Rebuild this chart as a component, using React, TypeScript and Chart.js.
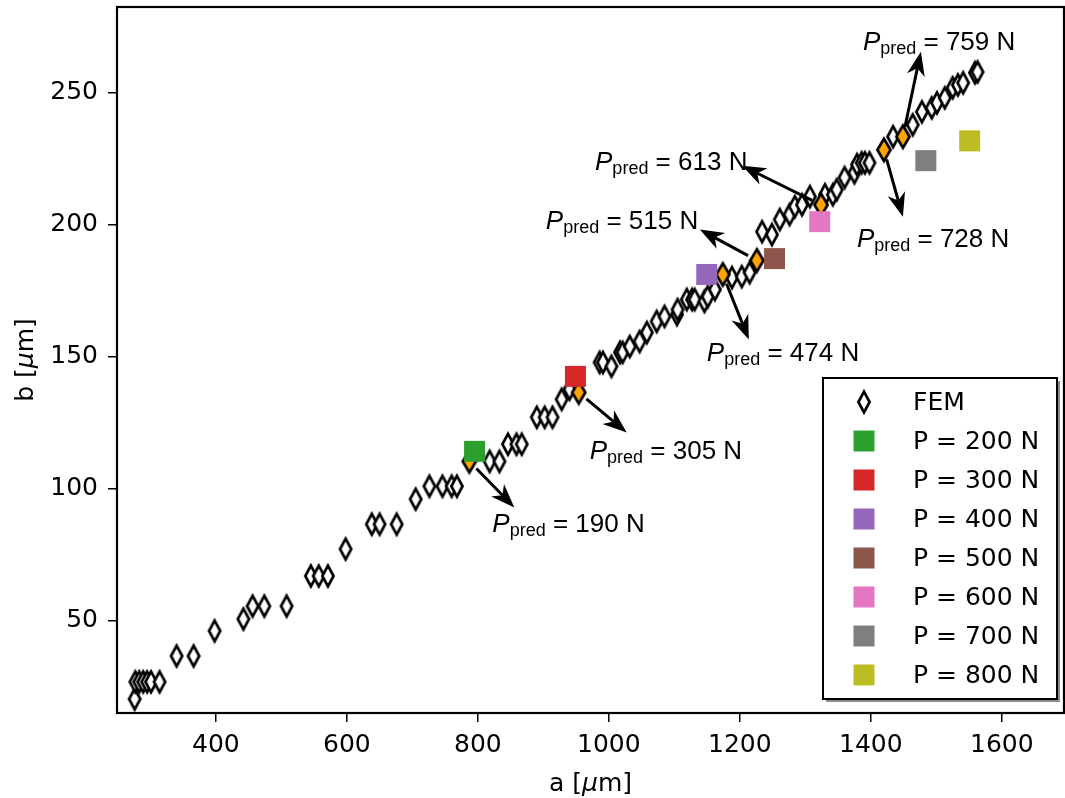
import React, { useEffect, useRef } from "react";
import { Chart, registerables } from "chart.js";

Chart.register(...registerables);

// ---- data ----
const femA = [
  276, 277, 283, 289, 295, 301, 314, 340, 366, 398, 442, 456, 474, 508, 545, 557, 571, 598,
  638, 650, 676, 705, 726, 746, 760, 768, 818, 833, 846, 859, 867, 890, 902, 914, 928, 940,
  986, 991, 1004, 1017, 1021, 1032, 1047, 1058, 1073, 1085, 1104, 1105, 1119, 1127, 1131,
  1146, 1151, 1162, 1188, 1203, 1215, 1234, 1249, 1261, 1276, 1284, 1295, 1307, 1330, 1342,
  1348, 1360, 1375, 1379, 1386, 1391, 1398, 1434, 1464, 1478, 1493, 1501, 1513, 1525, 1533,
  1541, 1559, 1563,
];
const femB = [
  20.4, 26.9, 26.9, 26.9, 26.9, 26.9, 26.9, 36.7, 36.7, 46.2, 50.7, 55.6, 55.6, 55.6, 67, 67,
  67, 77.2, 86.6, 86.6, 86.6, 96.1, 101, 101, 101, 101, 110.4, 110.4, 116.9, 116.9, 116.9,
  127.1, 127.1, 127.1, 133.9, 137.7, 147.9, 147.9, 146.4, 151.7, 151.7, 153.9, 155.8, 159.2,
  163.4, 165.3, 166, 167.9, 171.7, 171.7, 171.7, 171, 172.8, 175.5, 180, 180.4, 181.9, 197.4,
  196.3, 202, 203.9, 206.9, 207.6, 210.7, 211.4, 211.4, 213.3, 217.9, 219.7, 222.8, 223.5,
  223.5, 223.5, 233.4, 237.9, 242.8, 244.3, 246.2, 248.1, 251.9, 253, 253.8, 257.6, 257.9,
];

const predA = [787, 954, 1174, 1226, 1324, 1420, 1449];
const predB = [110.4, 136.5, 181.2, 186.5, 207.6, 228.4, 233.4];
const predLabels = ["190 N", "305 N", "474 N", "515 N", "613 N", "728 N", "759 N"];

const loadLabels = ["P = 200 N", "P = 300 N", "P = 400 N", "P = 500 N", "P = 600 N", "P = 700 N", "P = 800 N"];
const loadA = [795, 949, 1149.5, 1253, 1322, 1484, 1551];
const loadB = [114.2, 142.6, 181.2, 187.2, 201.2, 224.3, 231.8];
const loadColors = ["#2ca02c", "#d62728", "#9467bd", "#8c564b", "#e377c2", "#7f7f7f", "#bcbd22"];

const xTicks = [400, 600, 800, 1000, 1200, 1400, 1600];
const yTicks = [50, 100, 150, 200, 250];

// annotation offsets in pixels relative to the predicted point: [tipDx, tipDy, textDx, textDy]
const annOffsets = [
  [45, 46, 23, 71],
  [48, 40, 11, 67],
  [26, 65, -16, 87],
  [-57, -31, -211, -31],
  [-79, -39, -226, -35],
  [19, 67, -27, 97],
  [18, -85, -40, -87],
];

const TICK_FONT = "DejaVu Sans";
const ANN_FONT = "Liberation Sans";

function makeDiamond(fill: string, hw: number, hh: number): HTMLCanvasElement {
  const c = document.createElement("canvas");
  c.width = 22;
  c.height = 32;
  const g = c.getContext("2d")!;
  const cx = 11, cy = 16;
  g.beginPath();
  g.moveTo(cx, cy - hh);
  g.lineTo(cx + hw, cy);
  g.lineTo(cx, cy + hh);
  g.lineTo(cx - hw, cy);
  g.closePath();
  g.fillStyle = fill;
  g.fill();
  g.lineWidth = 2.7;
  g.lineJoin = "miter";
  g.strokeStyle = "#000";
  g.stroke();
  return c;
}

function drawArrow(ctx: CanvasRenderingContext2D, x0: number, y0: number, x1: number, y1: number) {
  const dx = x1 - x0, dy = y1 - y0;
  const len = Math.hypot(dx, dy);
  const ux = dx / len, uy = dy / len;
  const nx = -uy, ny = ux;
  const sx = x0 + ux * 10, sy = y0 + uy * 10;
  const L = 24, W = 9, notch = 7;
  ctx.save();
  ctx.strokeStyle = "#000";
  ctx.fillStyle = "#000";
  ctx.lineWidth = 3;
  ctx.beginPath();
  ctx.moveTo(sx, sy);
  ctx.lineTo(x1 - ux * (L - notch), y1 - uy * (L - notch));
  ctx.stroke();
  ctx.beginPath();
  ctx.moveTo(x1, y1);
  ctx.lineTo(x1 - ux * L + nx * W, y1 - uy * L + ny * W);
  ctx.lineTo(x1 - ux * (L - notch), y1 - uy * (L - notch));
  ctx.lineTo(x1 - ux * L - nx * W, y1 - uy * L - ny * W);
  ctx.closePath();
  ctx.fill();
  ctx.restore();
}

function drawPredText(ctx: CanvasRenderingContext2D, x: number, y: number, value: string) {
  ctx.save();
  ctx.fillStyle = "#000";
  ctx.textBaseline = "alphabetic";
  ctx.textAlign = "left";
  ctx.font = `italic 26px "${ANN_FONT}"`;
  ctx.fillText("P", x, y);
  let cx = x + ctx.measureText("P").width;
  ctx.font = `18px "${ANN_FONT}"`;
  ctx.fillText("pred", cx, y + 4);
  cx += ctx.measureText("pred").width;
  ctx.font = `26px "${ANN_FONT}"`;
  ctx.fillText(" = " + value, cx, y);
  ctx.restore();
}

function drawMuLabel(ctx: CanvasRenderingContext2D, prefix: string, x: number, y: number) {
  const parts: [string, boolean][] = [[prefix + " [", false], ["μ", true], ["m]", false]];
  let cx = x;
  for (const [t, it] of parts) {
    ctx.font = `${it ? "italic " : ""}25px "${TICK_FONT}"`;
    ctx.fillText(t, cx, y);
    cx += ctx.measureText(t).width;
  }
}

function muLabelWidth(ctx: CanvasRenderingContext2D, prefix: string) {
  const parts: [string, boolean][] = [[prefix + " [", false], ["μ", true], ["m]", false]];
  let w = 0;
  for (const [t, it] of parts) {
    ctx.font = `${it ? "italic " : ""}25px "${TICK_FONT}"`;
    w += ctx.measureText(t).width;
  }
  return w;
}

export default function App() {
  const ref = useRef<HTMLCanvasElement | null>(null);

  useEffect(() => {
    const canvas = ref.current!;
    const whiteDiamond = makeDiamond("#ffffff", 5.6, 10.3);
    const orangeDiamond = makeDiamond("#ffa500", 6.6, 11.2);

    const overlay = {
      id: "overlay",
      afterDatasetsDraw(chart: any) {
        const ctx: CanvasRenderingContext2D = chart.ctx;
        const xs = chart.scales.x, ys = chart.scales.y;
        const area = chart.chartArea;

        predA.forEach((a, i) => {
          const px = xs.getPixelForValue(a);
          const py = ys.getPixelForValue(predB[i]);
          const [tdx, tdy, txdx, txdy] = annOffsets[i];
          drawArrow(ctx, px, py, px + tdx, py + tdy);
          drawPredText(ctx, px + txdx, py + txdy, predLabels[i]);
        });

        ctx.save();
        ctx.strokeStyle = "#000";
        ctx.lineWidth = 2.2;
        ctx.strokeRect(area.left, area.top, area.right - area.left, area.bottom - area.top);
        ctx.restore();

        ctx.save();
        const lx = 823, ly = 378, lw = 234, lh = 321;
        ctx.fillStyle = "rgba(0,0,0,0.45)";
        ctx.fillRect(lx + 3, ly + 3, lw, lh);
        ctx.fillStyle = "#fff";
        ctx.fillRect(lx, ly, lw, lh);
        ctx.strokeStyle = "#000";
        ctx.lineWidth = 2;
        ctx.strokeRect(lx, ly, lw, lh);
        const mx = 864, tx = 913, row0 = 402, step = 39;
        ctx.font = `25px "${TICK_FONT}"`;
        ctx.fillStyle = "#000";
        ctx.textBaseline = "middle";
        ctx.textAlign = "left";
        ctx.drawImage(whiteDiamond, mx - whiteDiamond.width / 2, row0 - whiteDiamond.height / 2);
        ctx.fillText("FEM", tx, row0 + 1);
        loadLabels.forEach((lab, i) => {
          const yy = row0 + step * (i + 1);
          ctx.fillStyle = loadColors[i];
          ctx.fillRect(mx - 10.5, yy - 10.5, 21, 21);
          ctx.fillStyle = "#000";
          ctx.fillText(lab, tx, yy + 1);
        });
        ctx.restore();
      },
      afterDraw(chart: any) {
        const ctx: CanvasRenderingContext2D = chart.ctx;
        const area = chart.chartArea;
        ctx.save();
        ctx.fillStyle = "#000";
        ctx.textBaseline = "alphabetic";
        ctx.textAlign = "left";
        const wx = muLabelWidth(ctx, "a");
        drawMuLabel(ctx, "a", (area.left + area.right) / 2 - wx / 2, 791);
        const wy = muLabelWidth(ctx, "b");
        ctx.translate(33, (area.top + area.bottom) / 2);
        ctx.rotate(-Math.PI / 2);
        drawMuLabel(ctx, "b", -wy / 2, 0);
        ctx.restore();
      },
    };

    const datasets: any[] = [];
    loadLabels.forEach((lab, i) => {
      datasets.push({
        label: lab,
        data: [{ x: loadA[i], y: loadB[i] }],
        pointStyle: "rect",
        pointRadius: 14.85,
        backgroundColor: loadColors[i],
        borderColor: loadColors[i],
        borderWidth: 0,
      });
    });
    datasets.push({
      label: "pred",
      data: predA.map((a, i) => ({ x: a, y: predB[i] })),
      pointStyle: orangeDiamond,
      pointRadius: 10,
    });
    datasets.push({
      label: "FEM",
      data: femA.map((a, i) => ({ x: a, y: femB[i] })),
      pointStyle: whiteDiamond,
      pointRadius: 10,
    });

    const zeroPad = (s: any) => {
      s.paddingLeft = 0;
      s.paddingRight = 0;
      s.paddingTop = 0;
      s.paddingBottom = 0;
    };

    const tickFont = { family: TICK_FONT, size: 25 };
    const chart = new Chart(canvas, {
      type: "scatter",
      data: { datasets },
      options: {
        responsive: false,
        animation: false,
        devicePixelRatio: 1,
        events: [],
        layout: { autoPadding: false, padding: { left: 0, right: 1, top: 7, bottom: 0 } },
        plugins: { legend: { display: false }, tooltip: { enabled: false } },
        scales: {
          x: {
            type: "linear",
            min: 249,
            max: 1695,
            afterBuildTicks: (s: any) => {
              s.ticks = xTicks.map((v) => ({ value: v }));
            },
            afterFit: (s: any) => {
              s.height = 85;
              zeroPad(s);
            },
            grid: { display: true, drawOnChartArea: false, drawTicks: true, tickLength: 9, color: "#000", lineWidth: 1.5 },
            border: { display: false },
            ticks: { font: tickFont, color: "#000", padding: 8, maxRotation: 0, autoSkip: false, callback: (v: any) => String(v) },
          },
          y: {
            type: "linear",
            min: 15.1,
            max: 282.5,
            afterBuildTicks: (s: any) => {
              s.ticks = yTicks.map((v) => ({ value: v }));
            },
            afterFit: (s: any) => {
              s.width = 117;
              zeroPad(s);
            },
            grid: { display: true, drawOnChartArea: false, drawTicks: true, tickLength: 9, color: "#000", lineWidth: 1.5 },
            border: { display: false },
            ticks: { font: tickFont, color: "#000", padding: 10, autoSkip: false, callback: (v: any) => String(v) },
          },
        },
      },
      plugins: [overlay],
    } as any);

    return () => chart.destroy();
  }, []);

  return (
    <div style={{ position: "absolute", left: 0, top: 0, width: 1065, height: 798, background: "#fff" }}>
      <canvas ref={ref} width={1065} height={798} style={{ display: "block" }} />
    </div>
  );
}
